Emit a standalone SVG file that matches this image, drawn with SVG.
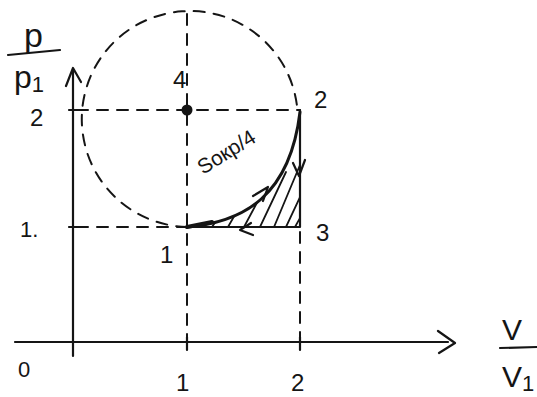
<svg xmlns="http://www.w3.org/2000/svg" width="537" height="397" viewBox="0 0 537 397">
<style>
.ln{fill:none;stroke:#151515;stroke-linecap:round;stroke-linejoin:round}
.ax{stroke-width:2.2}
.ds{stroke-width:2;stroke-dasharray:11 9}
.th{stroke-width:3}
.ht{stroke-width:1.8}
.t{font-family:"Liberation Sans","DejaVu Sans",sans-serif;fill:#151515}
</style>
<rect width="537" height="397" fill="#fff"/>
<defs>
<clipPath id="hc"><path d="M187,227 C245,222 290,195 300,112 L300,227 Z"/></clipPath>
</defs>
<g id="axes">
<path class="ln ax" d="M73,356 L73,68 M66,86 L73,68 L81,82"/>
<path class="ln ax" d="M15,342 L448,342 M438,331 L455,343 L439,353"/>
<path class="ln ax" d="M187,337 L187,350 M300,337 L300,350"/>
<path class="ln ax" d="M69,110 L77,110 M69,227 L77,227"/>
</g>
<g id="connectors">
<path class="ln ds" d="M187,227 A108,108 0 1 1 297,106"/>
<path class="ln ds" d="M77,110 L300,110"/>
<path class="ln ds" d="M77,227 L187,227"/>
<path class="ln ds" d="M187,14 L187,338"/>
<path class="ln ds" d="M300,232 L300,338"/>
<path class="ln th" d="M187,227 C245,222 290,195 300,112"/>
<path class="ln ax" d="M300,110 L300,227 L187,227"/>
<path class="ln" stroke-width="4" d="M187,227 L212,222"/>
<g clip-path="url(#hc)">
<path class="ln ht" d="M212,227 L228,203 M228,227 L248,192 M244,227 L268,182 M260,227 L286,172 M274,227 L300,165 M286,227 L308,180 M295,227 L310,200"/>
</g>
<path class="ln ax" d="M253,196 L268,187 L263,201"/>
<path class="ln ax" d="M293,163 L299,176 L305,160"/>
<path class="ln ax" d="M251,223 L240,230 L253,235"/>
</g>
<g id="point4"><circle cx="187" cy="110" r="5.5" fill="#151515"/><text class="t" x="173" y="88" font-size="24">4</text></g>
<g id="point2"><text class="t" x="314" y="108" font-size="24">2</text></g>
<g id="point3"><text class="t" x="316" y="241" font-size="24">3</text></g>
<g id="point1"><text class="t" x="160" y="263" font-size="24">1</text></g>
<g id="area"><text class="t" x="203" y="175" font-size="21" transform="rotate(-32 203 175)">Sокр/4</text></g>
<g id="ticklabels">
<text class="t" x="30" y="126" font-size="24">2</text>
<text class="t" x="20" y="237" font-size="22">1.</text>
<text class="t" x="18" y="377" font-size="22">0</text>
<text class="t" x="176" y="391" font-size="24">1</text>
<text class="t" x="291" y="391" font-size="24">2</text>
</g>
<g id="ylabel">
<text class="t" x="24" y="47" font-size="34">p</text>
<path class="ln ax" d="M8,55 L60,50"/>
<text class="t" x="14" y="88" font-size="32">p<tspan font-size="22" dy="4">1</tspan></text>
</g>
<g id="xlabel">
<text class="t" x="502" y="340" font-size="30">V</text>
<path class="ln ax" d="M500,348 L537,347"/>
<text class="t" x="502" y="387" font-size="30">V<tspan font-size="22" dy="4">1</tspan></text>
</g>
</svg>
